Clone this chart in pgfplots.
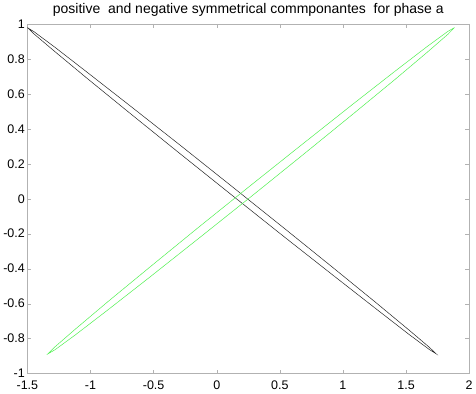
\documentclass[border=0pt]{standalone}
\usepackage{pgfplots}
\pgfplotsset{compat=1.18}
\usepackage{fontspec}
\setmainfont{Liberation Sans}
\begin{document}
\begin{tikzpicture}
\begin{axis}[
    scale only axis, width=441bp, height=349bp,
    xmin=-1.5, xmax=2, ymin=-1, ymax=1,
    xtick={-1.5,-1,-0.5,0,0.5,1,1.5,2},
    ytick={-1,-0.8,-0.6,-0.4,-0.2,0,0.2,0.4,0.6,0.8,1},
    /pgf/number format/assume math mode=true,
    /pgf/number format/.cd, fixed, precision=1, /pgfplots/.cd,
    tick align=inside, tick pos=both,
    major tick length=4bp,
    axis line style={draw=gray!60},
    major tick style={draw=gray!60},
    tick label style={font=\fontsize{12.5}{14}\selectfont},
    xticklabel style={yshift=-4bp},
    yticklabel style={xshift=1bp},
    title={positive\ \ and negative symmetrical commponantes\ \ for phase a},
    title style={font=\fontsize{14}{16}\selectfont, yshift=-2bp},
  ]
  % black loop
  \addplot[black!85, line width=0.5pt] coordinates {
    (-1.500,0.979) (-1.445,0.954) (-1.283,0.867) (-1.026,0.723) (-0.691,0.534)
    (-0.300,0.312) (0.119,0.071) (0.538,-0.171) (0.929,-0.399) (1.264,-0.596)
    (1.521,-0.750) (1.683,-0.849) (1.738,-0.887)
    (1.683,-0.862) (1.521,-0.775) (1.264,-0.631) (0.929,-0.442) (0.538,-0.220)
    (0.119,0.021) (-0.300,0.263) (-0.691,0.491) (-1.026,0.688) (-1.283,0.842)
    (-1.445,0.941) (-1.500,0.979)
  };
  % green loop
  \addplot[color={rgb,255:red,80;green,240;blue,80}, line width=0.5pt] coordinates {
    (1.884,0.979) (1.829,0.956) (1.668,0.871) (1.412,0.729) (1.079,0.541)
    (0.691,0.319) (0.274,0.079) (-0.143,-0.163) (-0.531,-0.392) (-0.864,-0.590)
    (-1.120,-0.746) (-1.281,-0.847) (-1.336,-0.887)
    (-1.281,-0.864) (-1.120,-0.779) (-0.864,-0.637) (-0.531,-0.449) (-0.143,-0.227)
    (0.274,0.013) (0.691,0.256) (1.079,0.484) (1.412,0.682) (1.668,0.838)
    (1.829,0.939) (1.884,0.979)
  };
\end{axis}
\end{tikzpicture}
\end{document}
